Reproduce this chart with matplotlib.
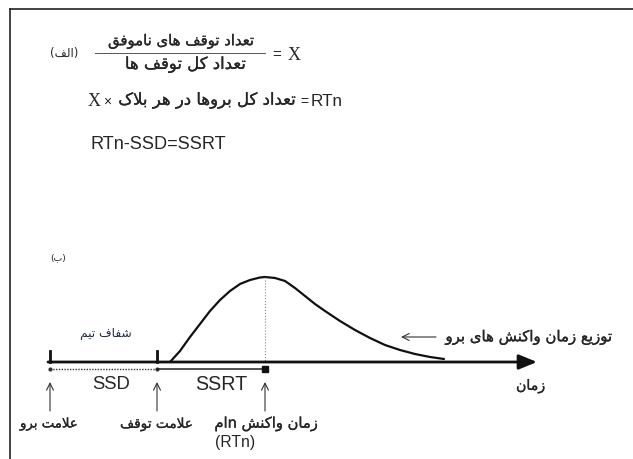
import matplotlib
matplotlib.use("Agg")
import matplotlib.pyplot as plt
import matplotlib.patheffects as pe

# --- Persian text (logical order) ---
num_text = "تعداد توقف های ناموفق"
den_text = "تعداد کل توقف ها"
alef_tag = "(الف)"
be_tag = "(ب)"
rtn_text = "تعداد کل بروها در هر بلاک"
dist_text = "توزیع زمان واکنش های برو"
time_text = "زمان"
go_text = "علامت برو"
stop_text = "علامت توقف"
rt_text = "زمان واکنش"
rt_suffix = "ام"
mark_text = "شفاف تیم"

# --- diagram data: response time distribution (time, curve y) ---
curve_t = [170, 180, 190, 200, 210, 220, 230, 240, 250, 260, 265, 275, 285, 295,
           305, 315, 325, 340, 355, 370, 385, 400, 415, 430, 444]
curve_y = [363, 352, 338, 325, 312, 301, 292, 285, 281, 278.5, 278, 279, 282, 289,
           297, 305, 312, 322, 331, 339, 346, 351, 355, 358, 360]
go_t = 50       # go signal
stop_t = 157    # stop signal (go + SSD)
rtn_t = 265     # nth reaction time
base_y = 363
axis_end = 537

# minimal arabic shaping (isolated, final, initial, medial)
FORMS = {
    'ا': ('\uFE8D', '\uFE8E', None, None),
    'ب': ('\uFE8F', '\uFE90', '\uFE91', '\uFE92'),
    'ت': ('\uFE95', '\uFE96', '\uFE97', '\uFE98'),
    'د': ('\uFEA9', '\uFEAA', None, None),
    'ر': ('\uFEAD', '\uFEAE', None, None),
    'ز': ('\uFEAF', '\uFEB0', None, None),
    'ش': ('\uFEB5', '\uFEB6', '\uFEB7', '\uFEB8'),
    'ع': ('\uFEC9', '\uFECA', '\uFECB', '\uFECC'),
    'ف': ('\uFED1', '\uFED2', '\uFED3', '\uFED4'),
    'ق': ('\uFED5', '\uFED6', '\uFED7', '\uFED8'),
    'ک': ('\uFB8E', '\uFB8F', '\uFB90', '\uFB91'),
    'ل': ('\uFEDD', '\uFEDE', '\uFEDF', '\uFEE0'),
    'م': ('\uFEE1', '\uFEE2', '\uFEE3', '\uFEE4'),
    'ن': ('\uFEE5', '\uFEE6', '\uFEE7', '\uFEE8'),
    'ه': ('\uFEE9', '\uFEEA', '\uFEEB', '\uFEEC'),
    'و': ('\uFEED', '\uFEEE', None, None),
    'ی': ('\uFBFC', '\uFBFD', '\uFBFE', '\uFBFF'),
}


def shape(s):
    out = []
    i = 0
    n = len(s)
    while i < n:
        c = s[i]
        if c not in FORMS:
            out.append(c)
            i += 1
            continue
        prev_ok = i > 0 and s[i-1] in FORMS and FORMS[s[i-1]][2] is not None
        if c == 'ل' and i + 1 < n and s[i+1] == 'ا':
            out.append('\uFEFC' if prev_ok else '\uFEFB')
            i += 2
            continue
        next_ok = FORMS[c][2] is not None and i + 1 < n and s[i+1] in FORMS
        iso, fin, ini, med = FORMS[c]
        if prev_ok and next_ok:
            out.append(med)
        elif prev_ok:
            out.append(fin)
        elif next_ok:
            out.append(ini)
        else:
            out.append(iso)
        i += 1
    return ''.join(out)


def fa(s):
    v = shape(s)[::-1]
    return v.translate(str.maketrans('()', ')('))


col = '#262626'
FA = 'DejaVu Sans'
LA = 'Liberation Sans'
SE = 'Liberation Serif'
thick = [pe.withStroke(linewidth=0.2, foreground=col)]

fig = plt.figure(figsize=(6.33, 4.6), dpi=100)
ax = fig.add_axes([0, 0, 1, 1])
ax.set_xlim(0, 633)
ax.set_ylim(460, 0)
ax.axis('off')
renderer = fig.canvas.get_renderer()


def fit(x0, x1, y, s, family, size=9, **kw):
    # put text between x0 and x1 (pixels), scaling the font to that width
    t = ax.text((x0 + x1) / 2, y, s, fontsize=size, family=family, color=kw.pop('color', col),
                ha='center', va='center', **kw)
    w = t.get_window_extent(renderer).width
    t.set_fontsize(size * (x1 - x0) / w)
    return t


# frame
ax.plot([10, 640], [10, 10], color='#222222', lw=1.2)
ax.plot([10, 10], [10, 470], color='#222222', lw=1.2)

# (a) formulas
fit(50, 78, 54, fa(alef_tag), FA)
ax.plot([95, 265], [54, 54], color='#555555', lw=0.7)
fit(108, 254, 42, fa(num_text), FA, path_effects=thick)
fit(125, 246, 66, fa(den_text), FA, path_effects=thick)
ax.text(272, 55, '=', fontsize=11, family=LA, color=col, ha='left', va='center')
ax.text(288, 55, 'X', fontsize=13, family=SE, color=col, ha='left', va='center')

ax.text(88, 101, 'X', fontsize=13, family=SE, color=col, ha='left', va='center')
ax.text(103, 102, '×', fontsize=10, family=LA, color=col, ha='left', va='center')
fit(118, 296, 101, fa(rtn_text), FA, path_effects=thick)
ax.text(300, 102, '=', fontsize=10, family=LA, color=col, ha='left', va='center')
fit(311, 343, 101, 'RTn', LA)

fit(90, 226, 145, 'RTn-SSD=SSRT', LA)

# (b) diagram
fit(50, 66, 258, fa(be_tag), FA)

# time axis
ax.annotate('', xy=(axis_end, base_y), xytext=(go_t - 2, base_y),
            arrowprops=dict(arrowstyle='-|>,head_length=1.1,head_width=0.45',
                            color='#111111', lw=2, shrinkA=0, shrinkB=0))
ax.plot([go_t, go_t], [352, base_y], color='#111111', lw=2)
ax.plot([stop_t, stop_t], [352, base_y], color='#111111', lw=2)

# distribution curve + RTn line
ax.plot(curve_t, curve_y, color='#111111', lw=1.6, solid_capstyle='round')
ax.plot([rtn_t, rtn_t], [min(curve_y), base_y], color='#888888', lw=0.8, ls=':')

# SSD (dotted) and SSRT (solid)
ax.plot([go_t, stop_t], [370, 370], color='#333333', lw=1, ls=(0, (1, 1)))
ax.plot([go_t, stop_t], [370, 370], 'o', color='#333333', ms=2)
ax.plot([stop_t, rtn_t], [370, 370], color='#222222', lw=1.1)
ax.plot([rtn_t], [370], 's', color='#111111', ms=4.5)

fit(92, 130, 385, 'SSD', LA)
fit(195, 247, 385, 'SSRT', LA)

# up arrows
for t in [go_t, stop_t, rtn_t]:
    ax.annotate('', xy=(t, 383), xytext=(t, 412),
                arrowprops=dict(arrowstyle='->,head_length=0.5,head_width=0.25',
                                color='#333333', lw=0.8, shrinkA=0, shrinkB=0))

fit(20, 78, 425, fa(go_text), FA, path_effects=thick)
fit(120, 193, 425, fa(stop_text), FA, path_effects=thick)
fit(215, 318, 425, fa(rt_suffix) + 'n ' + fa(rt_text), FA, path_effects=thick)
fit(215, 255, 443, '(RTn)', LA)

# distribution label with arrow
fit(445, 612, 338, fa(dist_text), FA, path_effects=thick)
ax.annotate('', xy=(401, 338), xytext=(436, 338),
            arrowprops=dict(arrowstyle='->,head_length=0.5,head_width=0.25',
                            color='#333333', lw=0.8, shrinkA=0, shrinkB=0))

fit(516, 545, 387, fa(time_text), FA, path_effects=thick)

# watermark
fit(80, 132, 333, fa(mark_text), FA, color='#1f2a44')

fig.savefig('out.png', dpi=100)
